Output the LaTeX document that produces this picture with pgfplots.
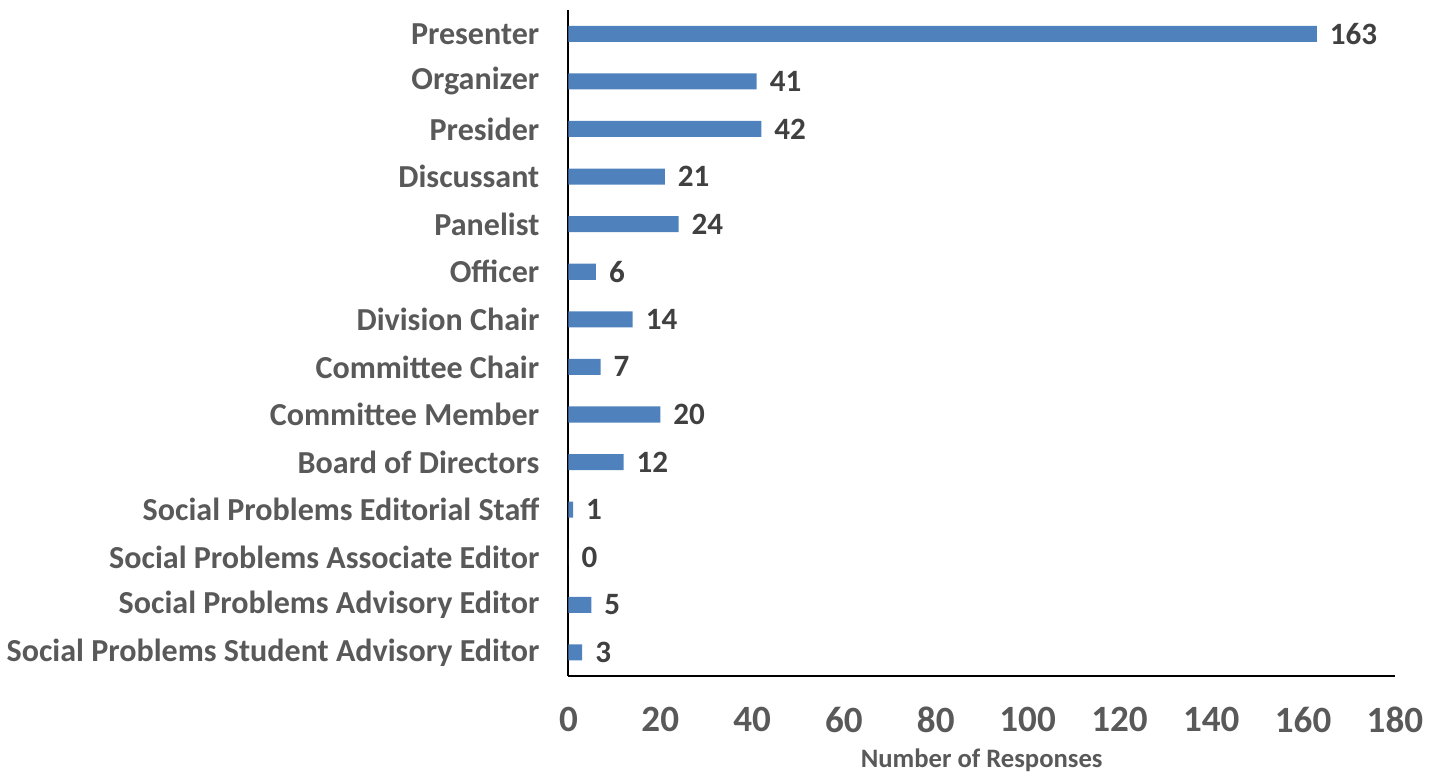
\documentclass[border=0pt]{standalone}
\usepackage{pgfplots}
\pgfplotsset{compat=1.18}
\usepackage{fontspec}
\setmainfont{Carlito}
\definecolor{barblue}{RGB}{79,129,189}
\definecolor{labgray}{RGB}{89,89,89}
\definecolor{valgray}{RGB}{64,64,64}
\begin{document}
\begin{tikzpicture}
\begin{axis}[
  xbar,
  scale only axis,
  width=412.5pt,
  height=332.5pt,
  bar width=8pt,
  xmin=0, xmax=180,
  xtick={0,20,...,180},
  ymin=-0.5, ymax=13.5,
  y dir=reverse,
  ytick={0,...,13},
  yticklabels={Presenter,Organizer,Presider,Discussant,Panelist,Officer,Division Chair,Committee Chair,Committee Member,Board of Directors,Social Problems Editorial Staff,Social Problems Associate Editor,Social Problems Advisory Editor,Social Problems Student Advisory Editor},
  axis lines*=left,
  axis line style={black, line width=1pt},
  major tick length=0pt,
  yticklabel style={font=\fontsize{16}{17}\selectfont\bfseries, text=labgray, xshift=-11pt},
  xticklabel style={font=\fontsize{18.5}{20}\selectfont\bfseries, text=labgray, yshift=-12pt},
  /pgf/number format/assume math mode=true,
  xlabel={Number of Responses},
  xlabel style={font=\fontsize{13.3}{15}\selectfont\bfseries, text=labgray, yshift=-1pt},
  nodes near coords,
  every node near coord/.append style={font=\fontsize{15.5}{17}\selectfont\bfseries, text=valgray, anchor=west, xshift=3pt},
  clip=false,
]
\addplot[fill=barblue, draw=none] coordinates {
  (163,0) (41,1) (42,2) (21,3) (24,4) (6,5) (14,6) (7,7) (20,8) (12,9) (1,10) (0,11) (5,12) (3,13)
};
\path (rel axis cs:1,1) ++(22pt,5pt) coordinate (pad);
\end{axis}
\end{tikzpicture}
\end{document}
